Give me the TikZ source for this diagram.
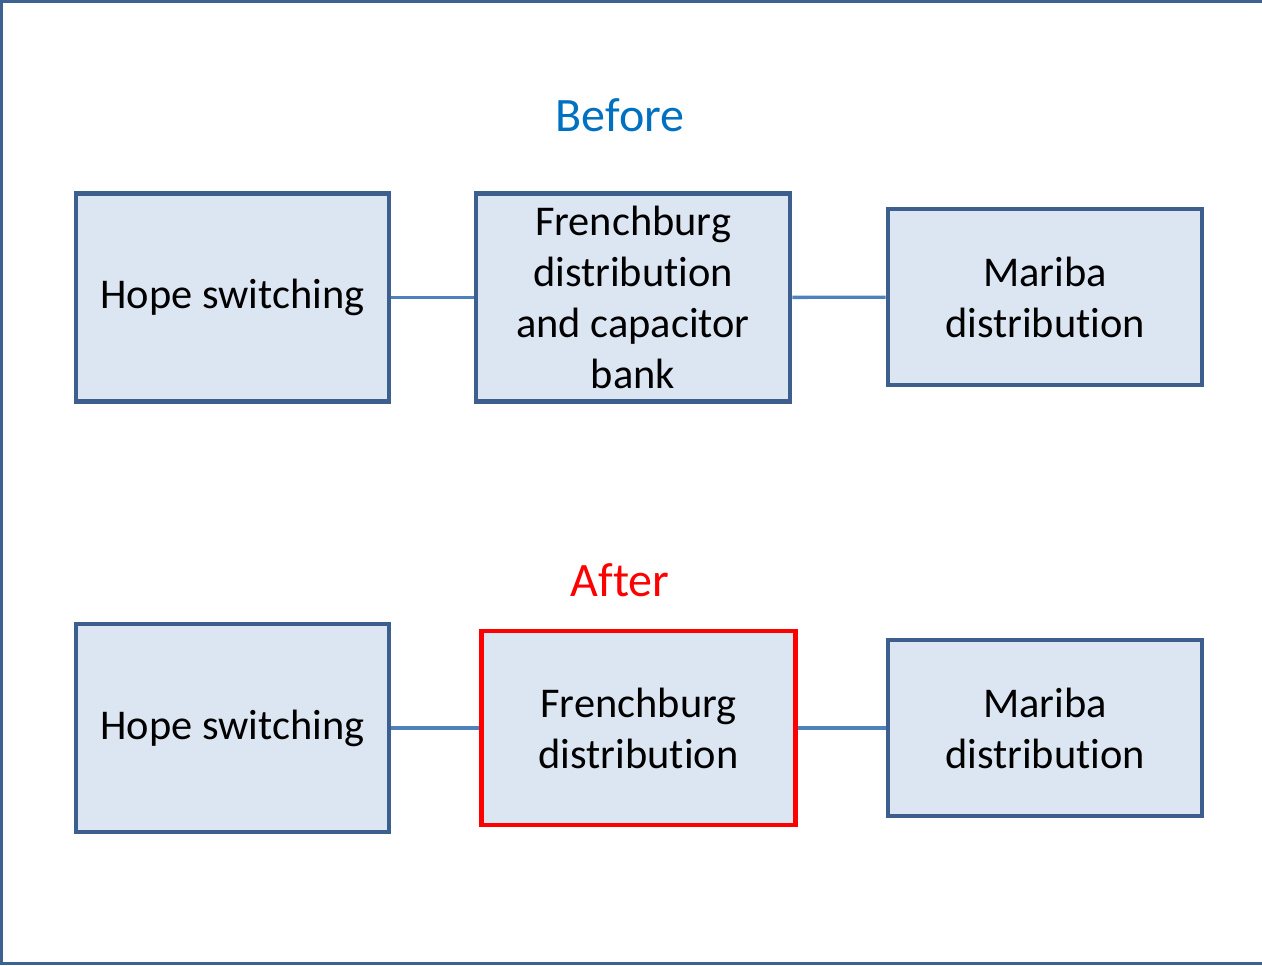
\documentclass[tikz,border=0pt]{standalone}
\usepackage{fontspec}
\setmainfont{Carlito}[Ligatures=NoCommon]
\usetikzlibrary{positioning}
\definecolor{boxFill}{HTML}{DCE6F2}
\definecolor{boxLine}{HTML}{3C5F8D}
\definecolor{linkColor}{HTML}{4F81BD}
\definecolor{titleBlue}{HTML}{0070C0}
\definecolor{frameColor}{HTML}{3D6191}
\tikzset{
  stage/.style={draw=boxLine, fill=boxFill, line width=2.3pt, align=center, inner sep=0pt,
    font=\fontsize{21.2}{25.5}\selectfont, text=black},
  changed/.style={stage, draw=red},
  link/.style={linkColor, line width=1.7pt},
  heading/.style={font=\fontsize{24}{28}\selectfont}
}

\begin{document}
\begin{tikzpicture}[x=0.5pt,y=-0.5pt]
				\useasboundingbox (0,0) rectangle (1262,965);
				\draw[frameColor, line width=1.6pt] (1262,1.5) -- (1.5,1.5) -- (1.5,963.5) -- (1262,963.5);
				% before
				\node [heading, titleBlue] (before) at (620,115) {Before};
				\node [stage, minimum width=156.5pt, minimum height=104pt] (hope1) at (232.5,297.5) {Hope switching};
				\node [stage, minimum width=157pt, minimum height=104pt] (fren1) at (633,297.5) {Frenchburg\\distribution\\and capacitor\\bank};
				\node [stage, minimum width=157pt, minimum height=88pt] (mariba1) at (1045,297) {Mariba\\distribution};
				\draw [link] (hope1) -- (fren1);
				\draw [link] (fren1) -- (mariba1);
				% after
				\node [heading, red] (after) at (620,580) {After};
				\node [stage, minimum width=156.5pt, minimum height=104pt] (hope2) at (232.5,728) {Hope switching};
				\node [changed, minimum width=157pt, minimum height=97pt] (fren2) at (638.5,728) {Frenchburg\\distribution};
				\node [stage, minimum width=157pt, minimum height=88pt] (mariba2) at (1045,728) {Mariba\\distribution};
				\draw [link] (hope2) -- (fren2);
				\draw [link] (fren2) -- (mariba2);
\end{tikzpicture}
\end{document}
